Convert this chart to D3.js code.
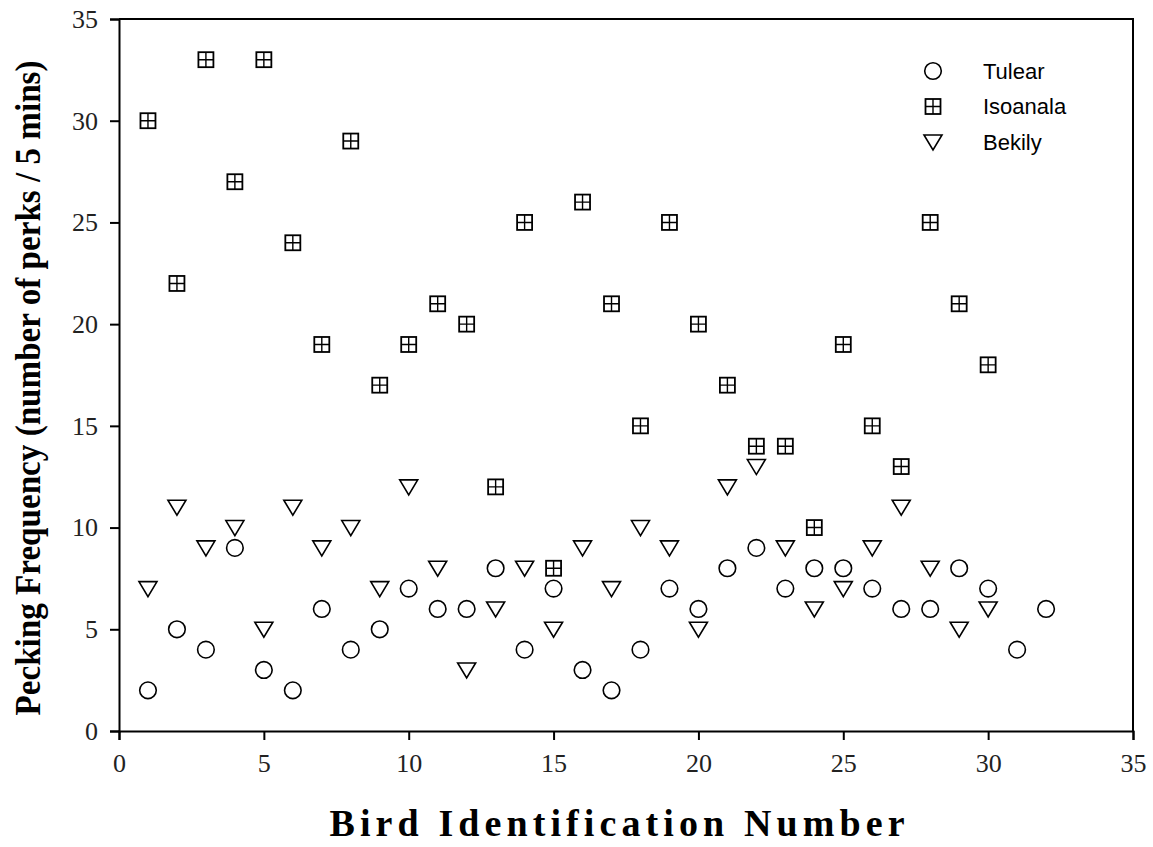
<!DOCTYPE html>
<html>
<head>
<meta charset="utf-8">
<script src="https://cdn.jsdelivr.net/npm/d3@7"></script>
<style>
  body { margin: 0; background: #fff; }
  svg { display: block; }
</style>
</head>
<body>
<svg id="chart" width="1153" height="847"></svg>
<script>
// data
var tulearIds = d3.range(1, 33);
var tulear = [2,5,4,9,3,2,6,4,5,7,6,6,8,4,7,3,2,4,7,6,8,9,7,8,8,7,6,6,8,7,4,6];
var isoIds = d3.range(1, 31);
var isoanala = [30,22,33,27,33,24,19,29,17,19,21,20,12,25,8,26,21,15,25,20,17,14,14,10,19,15,13,25,21,18];
var bekilyIds = d3.range(1, 31);
var bekily = [7,11,9,10,5,11,9,10,7,12,8,3,6,8,5,9,7,10,9,5,12,13,9,6,7,9,11,8,5,6];
var xTicks = [0,5,10,15,20,25,30,35];
var yTicks = [0,5,10,15,20,25,30,35];
var seriesNames = ["Tulear", "Isoanala", "Bekily"];

var svg = d3.select("#chart");
var plotL = 119, plotR = 1133, plotT = 19, plotB = 731;

var x = d3.scaleLinear().domain([0, 35]).range([plotL, plotR]);
var y = d3.scaleLinear().domain([0, 35]).range([plotB, plotT]);

// frame (top + right)
svg.append("path")
  .attr("d", "M" + plotL + "," + plotT + "H" + plotR + "V" + plotB)
  .attr("fill", "none").attr("stroke", "#000").attr("stroke-width", 2);

var xAxis = svg.append("g")
  .attr("transform", "translate(0," + plotB + ")")
  .call(d3.axisBottom(x).tickValues(xTicks).tickSize(9).tickPadding(10).tickFormat(d3.format("d")));
var yAxis = svg.append("g")
  .attr("transform", "translate(" + plotL + ",0)")
  .call(d3.axisLeft(y).tickValues(yTicks).tickSize(9).tickPadding(10).tickFormat(d3.format("d")));

[xAxis, yAxis].forEach(function(a) {
  a.select(".domain").attr("stroke-width", 2);
  a.selectAll(".tick line").attr("stroke-width", 2);
  a.selectAll("text")
    .style("font-family", "'Liberation Serif', 'Times New Roman', serif")
    .style("font-size", "26px")
    .attr("fill", "#222");
});
xAxis.selectAll("text").attr("dy", "0.85em");
yAxis.selectAll("text").attr("dx", "-2px");

// axis titles
svg.append("text")
  .attr("x", 617).attr("y", 836)
  .attr("text-anchor", "middle")
  .attr("textLength", 575).attr("lengthAdjust", "spacing")
  .style("font-family", "'Liberation Serif', 'Times New Roman', serif")
  .style("font-weight", "bold").style("font-size", "38px")
  .text("Bird Identification Number");

svg.append("text")
  .attr("transform", "translate(40,388) rotate(-90)")
  .attr("text-anchor", "middle")
  .attr("textLength", 655).attr("lengthAdjust", "spacingAndGlyphs")
  .style("font-family", "'Liberation Serif', 'Times New Roman', serif")
  .style("font-weight", "bold").style("font-size", "35px")
  .text("Pecking Frequency (number of perks / 5 mins)");

// marker drawers
function drawCircle(g) {
  g.append("circle").attr("r", 8.3)
    .attr("fill", "none").attr("stroke", "#000").attr("stroke-width", 1.6);
}
function drawSquare(g) {
  g.append("rect").attr("x", -7.5).attr("y", -7.5).attr("width", 15).attr("height", 15)
    .attr("fill", "none").attr("stroke", "#000").attr("stroke-width", 1.8);
  g.append("path").attr("d", "M0,-7.5V7.5M-7.5,0H7.5")
    .attr("stroke", "#000").attr("stroke-width", 1.4);
}
function drawTriangle(g) {
  g.append("path").attr("d", "M-9,-7H9L0,8Z")
    .attr("fill", "none").attr("stroke", "#000").attr("stroke-width", 1.6)
    .attr("stroke-linejoin", "miter");
}

function plot(ids, vals, drawer) {
  var pts = svg.append("g").selectAll("g")
    .data(ids.map(function(id, i) { return { id: id, v: vals[i] }; }))
    .enter().append("g")
    .attr("transform", function(d) { return "translate(" + x(d.id) + "," + y(d.v) + ")"; });
  pts.each(function() { drawer(d3.select(this)); });
}

plot(bekilyIds, bekily, drawTriangle);
plot(tulearIds, tulear, drawCircle);
plot(isoIds, isoanala, drawSquare);

// legend
var drawers = [drawCircle, drawSquare, drawTriangle];
var legend = svg.append("g");
seriesNames.forEach(function(name, i) {
  var yy = 71 + i * 35.5;
  var g = legend.append("g").attr("transform", "translate(933," + yy + ")");
  drawers[i](g);
  legend.append("text")
    .attr("x", 983).attr("y", yy).attr("dy", "0.35em")
    .style("font-family", "'Liberation Sans', Arial, sans-serif")
    .style("font-size", "22px")
    .text(name);
});
</script>
</body>
</html>
